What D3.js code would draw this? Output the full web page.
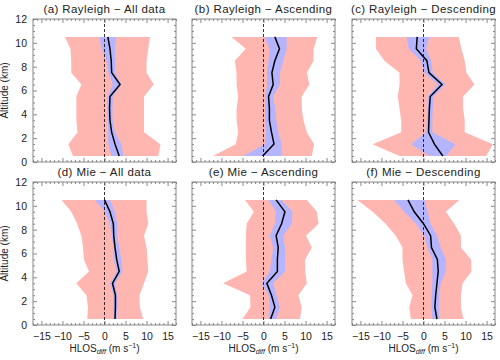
<!DOCTYPE html>
<html>
<head>
<meta charset="utf-8">
<script src="https://cdn.jsdelivr.net/npm/d3@7"></script>
<style>
  body { margin: 0; background: #fff; }
  text { font-family: 'Liberation Sans', Arial, sans-serif; fill: #222; }
</style>
</head>
<body>
<div id="chart"></div>
<script>
// altitude levels (km), bottom to top
const altitude = [0.5, 1.5, 2.5, 3.5, 4.5, 5.5, 6.5, 7.5, 8.5, 9.5, 10.5]

const xTicks = [-15, -10, -5, 0, 5, 10, 15]
const yTicks = [0, 2, 4, 6, 8, 10, 12]

const titles = [
  '(a) Rayleigh \u2212 All data', '(b) Rayleigh \u2212 Ascending', '(c) Rayleigh \u2212 Descending',
  '(d) Mie \u2212 All data', '(e) Mie \u2212 Ascending', '(f) Mie \u2212 Descending'
]

// (a) Rayleigh all
const rayAllMean = [3.5, 2.5, 1.7, 1.3, 1.2, 1.3, 3.7, 1.7, 1.6, 1.3, 0.8]
const rayAllBlueLo = [1.7, 0.9, 0.9, 0.7, 0.7, 0.7, 2.0, 0.9, 0.5, -0.7, -1.2]
const rayAllBlueHi = [4.5, 4.0, 2.5, 1.9, 1.9, 2.0, 4.0, 2.5, 2.5, 2.5, 2.8]
const rayAllRedLo = [-7.5, -8.6, -6.4, -6.7, -6.7, -6.7, -5.5, -7.9, -7.9, -8.1, -9.4]
const rayAllRedHi = [12.8, 13.3, 9.4, 9.4, 9.4, 9.4, 11.7, 10.0, 10.0, 10.4, 10.8]

// (b) Rayleigh ascending
const rayAscMean = [-0.2, 2.5, 1.9, 1.4, 1.4, 1.2, 2.3, 2.0, 2.7, 3.8, 2.7]
const rayAscBlueLo = [-4.8, 0.3, 0.6, 0.4, 0.4, 0.4, 0.9, 0.8, 1.2, 1.5, 0.2]
const rayAscBlueHi = [4.3, 4.3, 3.5, 3.0, 2.8, 2.3, 3.9, 3.9, 4.7, 5.5, 5.5]
const rayAscRedLo = [-12.0, -6.6, -6.0, -6.4, -6.4, -6.0, -6.4, -6.4, -6.8, -4.2, -7.6]
const rayAscRedHi = [11.5, 12.0, 10.3, 9.5, 9.1, 9.1, 10.9, 10.3, 11.9, 11.9, 12.8]

// (c) Rayleigh descending
const rayDesMean = [4.6, 2.6, 1.2, 1.3, 1.4, 1.6, 4.4, 1.3, 0.8, -1.7, -1.5]
const rayDesBlueLo = [1.4, -2.9, 0.6, 0.8, 1.0, 1.0, 3.4, 0.2, -0.6, -3.5, -4.0]
const rayDesBlueHi = [5.4, 7.6, 2.1, 2.1, 2.2, 2.4, 5.2, 2.2, 1.8, 0.6, 1.4]
const rayDesRedLo = [-5.7, -12.1, -5.3, -5.3, -5.7, -6.1, -5.7, -5.7, -9.3, -11.3, -11.3]
const rayDesRedHi = [14.9, 16.5, 9.8, 9.8, 9.4, 9.4, 12.1, 10.2, 9.8, 9.0, 8.4]

// (d) Mie all
const mieAllMean = [2.5, 2.6, 2.6, 1.9, 3.5, 2.9, 2.5, 2.2, 2.1, 1.3, 0.0]
const mieAllBlueLo = [2.1, 2.1, 2.1, 1.3, 2.9, 2.2, 2.1, 1.7, 1.3, 0.1, -2.3]
const mieAllBlueHi = [2.9, 3.0, 3.0, 2.5, 4.3, 4.0, 3.5, 3.0, 3.0, 2.5, 1.3]
const mieAllRedLo = [-4.1, -3.9, -4.3, -6.7, -3.7, -4.9, -5.1, -5.5, -6.5, -7.9, -10.2]
const mieAllRedHi = [9.2, 8.4, 8.3, 9.4, 10.4, 10.2, 10.0, 9.4, 10.4, 10.0, 10.0]

// (e) Mie ascending
const mieAscMean = [1.7, 2.7, 1.9, 0.8, 3.3, 3.3, 3.5, 3.0, 4.3, 5.1, 3.0]
const mieAscBlueLo = [1.2, 1.5, 1.2, -0.4, 1.5, 1.9, 2.3, 1.5, 2.7, 3.0, 1.2]
const mieAscBlueHi = [3.0, 3.9, 3.1, 2.3, 5.1, 5.1, 5.1, 4.7, 6.7, 6.9, 4.3]
const mieAscRedLo = [-5.0, -3.1, -3.2, -9.6, -4.0, -4.2, -4.2, -4.2, -4.0, -2.3, -4.4]
const mieAscRedHi = [8.7, 9.1, 8.3, 10.3, 9.9, 9.9, 11.5, 10.1, 13.1, 12.7, 10.3]

// (f) Mie descending
const mieDesMean = [3.2, 2.7, 2.9, 3.2, 3.5, 3.3, 1.9, 1.7, 0.0, -2.2, -3.7]
const mieDesBlueLo = [2.1, 1.9, 1.9, 2.1, 2.1, 2.1, 1.0, 0.2, -1.8, -4.6, -7.0]
const mieDesBlueHi = [3.7, 3.7, 3.7, 4.1, 5.3, 5.3, 4.1, 3.2, 1.7, 1.0, 0.2]
const mieDesRedLo = [-3.0, -3.4, -2.6, -4.2, -4.6, -5.0, -5.0, -6.6, -9.0, -12.1, -15.7]
const mieDesRedHi = [9.5, 8.9, 8.9, 9.3, 11.4, 11.3, 8.9, 8.9, 7.3, 5.3, 8.5]

const panels = [
  [rayAllMean, rayAllBlueLo, rayAllBlueHi, rayAllRedLo, rayAllRedHi],
  [rayAscMean, rayAscBlueLo, rayAscBlueHi, rayAscRedLo, rayAscRedHi],
  [rayDesMean, rayDesBlueLo, rayDesBlueHi, rayDesRedLo, rayDesRedHi],
  [mieAllMean, mieAllBlueLo, mieAllBlueHi, mieAllRedLo, mieAllRedHi],
  [mieAscMean, mieAscBlueLo, mieAscBlueHi, mieAscRedLo, mieAscRedHi],
  [mieDesMean, mieDesBlueLo, mieDesBlueHi, mieDesRedLo, mieDesRedHi]
]

let width = 500
let height = 360
let pw = 143
let ph = 143
let lefts = [33, 192, 352]
let tops = [19, 182]

let svg = d3
  .select('#chart')
  .append('svg')
  .attr('width', width)
  .attr('height', height)

let x = d3.scaleLinear().domain([-17, 17]).range([0, pw])
let y = d3.scaleLinear().domain([0, 12]).range([ph, 0])

let area = d3
  .area()
  .y(d => y(d.alt))
  .x0(d => x(d.lo))
  .x1(d => x(d.hi))

let line = d3
  .line()
  .x(d => x(d.v))
  .y(d => y(d.alt))

const xMinor = d3.range(-17, 18, 1)
const yMinor = d3.range(0, 12.01, 0.5)

panels.forEach((p, i) => {
  let col = i % 3
  let row = Math.floor(i / 3)
  let g = svg
    .append('g')
    .attr('transform', `translate(${lefts[col]},${tops[row]})`)

  let [mean, bLo, bHi, rLo, rHi] = p
  let red = altitude.map((a, k) => ({ alt: a, lo: rLo[k], hi: rHi[k] }))
  let blue = altitude.map((a, k) => ({ alt: a, lo: bLo[k], hi: bHi[k] }))
  let mid = altitude.map((a, k) => ({ alt: a, v: mean[k] }))

  g.append('path').attr('d', area(red)).attr('fill', '#ffb6b0')
  g.append('path').attr('d', area(blue)).attr('fill', '#b4b4ff')
  g.append('path')
    .attr('d', line(mid))
    .attr('fill', 'none')
    .attr('stroke', '#000')
    .attr('stroke-width', 1.5)

  // zero line
  g.append('line')
    .attr('x1', x(0))
    .attr('x2', x(0))
    .attr('y1', 0)
    .attr('y2', ph)
    .attr('stroke', '#000')
    .attr('stroke-width', 0.8)
    .attr('stroke-dasharray', '3,2')

  // minor ticks on all four sides
  let minorX = xMinor.filter(v => v % 5 !== 0)
  let minorY = yMinor.filter(v => v % 2 !== 0)
  g.append('g').attr('transform', `translate(0,${ph})`)
    .call(d3.axisBottom(x).tickValues(minorX).tickSize(-2).tickFormat(''))
  g.append('g')
    .call(d3.axisTop(x).tickValues(minorX).tickSize(-2).tickFormat(''))
  g.append('g')
    .call(d3.axisLeft(y).tickValues(minorY).tickSize(-2).tickFormat(''))
  g.append('g').attr('transform', `translate(${pw},0)`)
    .call(d3.axisRight(y).tickValues(minorY).tickSize(-2).tickFormat(''))

  // major ticks
  let bottom = g.append('g').attr('transform', `translate(0,${ph})`)
    .call(d3.axisBottom(x).tickValues(xTicks).tickSize(-4).tickPadding(8)
      .tickFormat(row === 1 ? d3.format('d') : ''))
  g.append('g')
    .call(d3.axisTop(x).tickValues(xTicks).tickSize(-4).tickFormat(''))
  let left = g.append('g')
    .call(d3.axisLeft(y).tickValues(yTicks).tickSize(-4).tickPadding(6)
      .tickFormat(col === 0 ? d3.format('d') : ''))
  g.append('g').attr('transform', `translate(${pw},0)`)
    .call(d3.axisRight(y).tickValues(yTicks).tickSize(-4).tickFormat(''))

  g.selectAll('.domain').remove()
  g.selectAll('.tick line').attr('stroke', '#888')
  g.selectAll('.tick text')
    .attr('font-size', 10.5)
    .style('font-family', "'Liberation Sans', Arial, sans-serif")
    .attr('fill', '#222')

  // frame
  g.append('rect')
    .attr('width', pw)
    .attr('height', ph)
    .attr('fill', 'none')
    .attr('stroke', '#888')
    .attr('stroke-width', 1)

  // title
  g.append('text')
    .text(titles[i])
    .attr('x', pw / 2)
    .attr('y', -6)
    .attr('text-anchor', 'middle')
    .attr('font-size', 11.5)
    .attr('letter-spacing', 0.4)

  if (col === 0) {
    g.append('text')
      .text('Altitude (km)')
      .attr('transform', `translate(-25,${ph / 2}) rotate(-90)`)
      .attr('text-anchor', 'middle')
      .attr('font-size', 10)
  }

  if (row === 1) {
    let t = g.append('text')
      .attr('x', pw / 2)
      .attr('y', ph + 27)
      .attr('text-anchor', 'middle')
      .attr('font-size', 10)
    t.append('tspan').text('HLOS')
    t.append('tspan').text('diff').attr('font-size', 7).attr('font-style', 'italic').attr('dy', 2)
    t.append('tspan').text(' (m s').attr('dy', -2)
    t.append('tspan').text('\u22121').attr('font-size', 7).attr('dy', -4)
    t.append('tspan').text(')').attr('dy', 4)
  }
})
</script>
</body>
</html>
